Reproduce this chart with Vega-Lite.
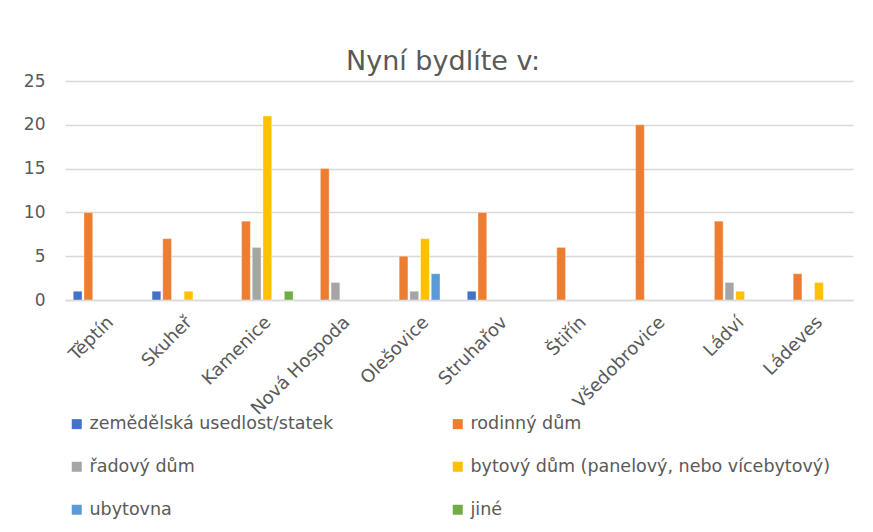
{
  "$schema": "https://vega.github.io/schema/vega-lite/v6.json",
  "autosize": "none",
  "width": 788,
  "height": 219,
  "padding": {"left": 65, "top": 81, "right": 20, "bottom": 232},
  "background": "white",
  "config": {
    "view": {"stroke": null},
    "font": "DejaVu Sans"
  },
  "title": {
    "text": "Nyní bydlíte v:",
    "fontSize": 27,
    "fontWeight": "normal",
    "color": "#595959",
    "font": "DejaVu Sans",
    "anchor": "middle",
    "dx": -16,
    "dy": 4,
    "offset": 0
  },
  "data": {
    "values": [
      {"obec": "Těptín", "typ": "zemědělská usedlost/statek", "pocet": 1},
      {"obec": "Těptín", "typ": "rodinný dům", "pocet": 10},
      {"obec": "Skuheř", "typ": "zemědělská usedlost/statek", "pocet": 1},
      {"obec": "Skuheř", "typ": "rodinný dům", "pocet": 7},
      {"obec": "Skuheř", "typ": "bytový dům (panelový, nebo vícebytový)", "pocet": 1},
      {"obec": "Kamenice", "typ": "rodinný dům", "pocet": 9},
      {"obec": "Kamenice", "typ": "řadový dům", "pocet": 6},
      {"obec": "Kamenice", "typ": "bytový dům (panelový, nebo vícebytový)", "pocet": 21},
      {"obec": "Kamenice", "typ": "jiné", "pocet": 1},
      {"obec": "Nová Hospoda", "typ": "rodinný dům", "pocet": 15},
      {"obec": "Nová Hospoda", "typ": "řadový dům", "pocet": 2},
      {"obec": "Olešovice", "typ": "rodinný dům", "pocet": 5},
      {"obec": "Olešovice", "typ": "řadový dům", "pocet": 1},
      {"obec": "Olešovice", "typ": "bytový dům (panelový, nebo vícebytový)", "pocet": 7},
      {"obec": "Olešovice", "typ": "ubytovna", "pocet": 3},
      {"obec": "Struhařov", "typ": "zemědělská usedlost/statek", "pocet": 1},
      {"obec": "Struhařov", "typ": "rodinný dům", "pocet": 10},
      {"obec": "Štiřín", "typ": "rodinný dům", "pocet": 6},
      {"obec": "Všedobrovice", "typ": "rodinný dům", "pocet": 20},
      {"obec": "Ládví", "typ": "rodinný dům", "pocet": 9},
      {"obec": "Ládví", "typ": "řadový dům", "pocet": 2},
      {"obec": "Ládví", "typ": "bytový dům (panelový, nebo vícebytový)", "pocet": 1},
      {"obec": "Ládeves", "typ": "rodinný dům", "pocet": 3},
      {"obec": "Ládeves", "typ": "bytový dům (panelový, nebo vícebytový)", "pocet": 2}
    ]
  },
  "mark": {"type": "bar", "stroke": "white", "strokeWidth": 0.6, "strokeOpacity": 0.6},
  "encoding": {
    "x": {
      "field": "obec",
      "type": "nominal",
      "sort": ["Těptín", "Skuheř", "Kamenice", "Nová Hospoda", "Olešovice", "Struhařov", "Štiřín", "Všedobrovice", "Ládví", "Ládeves"],
      "scale": {"paddingInner": 0.21, "paddingOuter": 0.105},
      "axis": {
        "title": null,
        "labelAngle": -45,
        "labelFontSize": 18,
        "labelColor": "#595959",
        "labelPadding": 13,
        "ticks": false,
        "domainColor": "#D9D9D9",
        "domainWidth": 1.5,
        "grid": false
      }
    },
    "xOffset": {
      "field": "typ",
      "type": "nominal",
      "scale": {
        "domain": ["zemědělská usedlost/statek", "rodinný dům", "řadový dům", "bytový dům (panelový, nebo vícebytový)", "ubytovna", "jiné"],
        "paddingInner": 0.18,
        "paddingOuter": 0
      }
    },
    "y": {
      "field": "pocet",
      "type": "quantitative",
      "scale": {"domain": [0, 25]},
      "axis": {
        "title": null,
        "values": [0, 5, 10, 15, 20, 25],
        "labelFontSize": 17,
        "labelColor": "#595959",
        "labelPadding": 20,
        "ticks": false,
        "domain": false,
        "gridColor": "#D9D9D9",
        "gridWidth": 1.5
      }
    },
    "color": {
      "field": "typ",
      "type": "nominal",
      "scale": {
        "domain": ["zemědělská usedlost/statek", "rodinný dům", "řadový dům", "bytový dům (panelový, nebo vícebytový)", "ubytovna", "jiné"],
        "range": ["#4472C4", "#ED7D31", "#A5A5A5", "#FFC000", "#5B9BD5", "#70AD47"]
      },
      "legend": {
        "title": null,
        "orient": "none",
        "direction": "horizontal",
        "legendX": 3,
        "legendY": 334,
        "columns": 2,
        "columnPadding": 115,
        "rowPadding": 24,
        "symbolType": "square",
        "symbolSize": 100,
        "symbolStrokeWidth": 0,
        "labelOffset": 4,
        "labelFontSize": 17.5,
        "labelColor": "#595959",
        "labelLimit": 500
      }
    }
  }
}
